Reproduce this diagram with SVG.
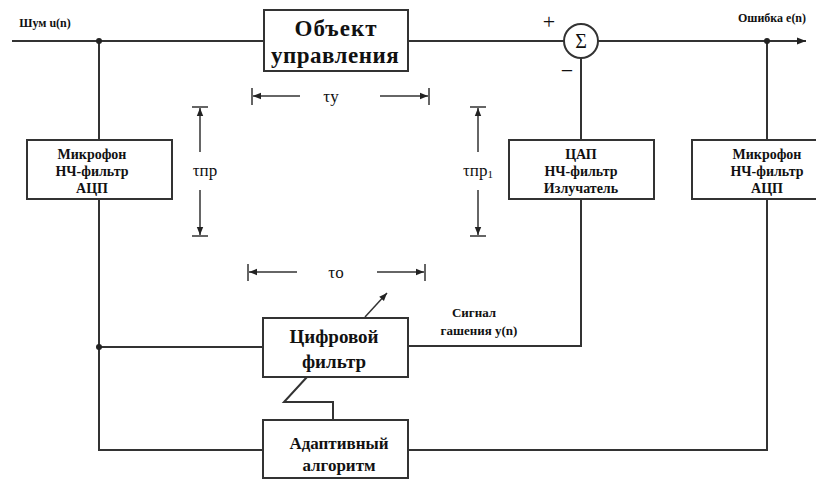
<svg xmlns="http://www.w3.org/2000/svg" width="816" height="481" viewBox="0 0 816 481">
<style>
.ln{fill:none;stroke:#333;stroke-width:2}
.bx{fill:#fff;stroke:#333;stroke-width:2}
.dm{fill:none;stroke:#333;stroke-width:1.5}
</style>
<defs>
<marker id="ah" viewBox="0 0 10 10" refX="10" refY="5" markerWidth="12" markerHeight="8" markerUnits="userSpaceOnUse" orient="auto"><path d="M0,1 L10,5 L0,9 z" fill="#222"/></marker>
<marker id="ah2" viewBox="0 0 10 10" refX="10" refY="5" markerWidth="14" markerHeight="9" markerUnits="userSpaceOnUse" orient="auto"><path d="M0,1 L10,5 L0,9 z" fill="#222"/></marker>
</defs>
<rect width="816" height="481" fill="#fff"/>
<g id="connectors">
<path class="ln" d="M12,41 H264"/>
<path class="ln" d="M408,41 H564"/>
<path class="ln" d="M598,41 H806" marker-end="url(#ah2)"/>
<path class="ln" d="M99,41 V140 M99,199 V450 H263"/>
<path class="ln" d="M99,347 H263"/>
<path class="ln" d="M581,58 V140 M581,199 V346 H408"/>
<path class="ln" d="M767,41 V140 M767,199 V450 H408"/>
<path class="ln" d="M307,377 L284,402 H333 V420"/>
<path class="dm" d="M365,317 L387,293" marker-end="url(#ah)"/>
<circle cx="99" cy="41" r="3" fill="#222"/>
<circle cx="767" cy="41" r="3" fill="#222"/>
<circle cx="99" cy="347" r="3" fill="#222"/>
</g>
<g id="dimensions">
<path class="dm" d="M252,88 V105 M429,88 V105"/>
<path class="dm" d="M300,96 H253" marker-end="url(#ah)"/>
<path class="dm" d="M380,96 H428" marker-end="url(#ah)"/>
<path class="dm" d="M248,264 V281 M425,264 V281"/>
<path class="dm" d="M297,272 H249" marker-end="url(#ah)"/>
<path class="dm" d="M377,272 H424" marker-end="url(#ah)"/>
<path class="dm" d="M192,107 H208 M192,236 H208"/>
<path class="dm" d="M200,152 V108" marker-end="url(#ah)"/>
<path class="dm" d="M200,190 V235" marker-end="url(#ah)"/>
<path class="dm" d="M470,107 H486 M470,236 H486"/>
<path class="dm" d="M478,152 V108" marker-end="url(#ah)"/>
<path class="dm" d="M478,190 V235" marker-end="url(#ah)"/>
<text font-family="Liberation Serif" font-size="17" fill="#111" text-anchor="middle" x="331" y="102">τу</text>
<text font-family="Liberation Serif" font-size="17" fill="#111" text-anchor="middle" x="336" y="278">τо</text>
<text font-family="Liberation Serif" font-size="17" fill="#111" text-anchor="middle" x="205" y="176">τпр</text>
<text font-family="Liberation Serif" font-size="17" fill="#111" text-anchor="middle" x="478" y="176">τпр<tspan font-size="11" dy="2">1</tspan></text>
</g>
<g id="labels">
<text font-family="Liberation Serif" font-weight="bold" font-size="12" fill="#111" text-anchor="middle" x="45" y="27">Шум u(n)</text>
<text font-family="Liberation Serif" font-weight="bold" font-size="12" fill="#111" text-anchor="middle" x="772" y="22">Ошибка e(n)</text>
<text font-family="Liberation Serif" font-size="22" fill="#111" text-anchor="middle" x="549" y="29">+</text>
<text font-family="Liberation Serif" font-size="22" fill="#111" text-anchor="middle" x="567" y="78">−</text>
<text font-family="Liberation Serif" font-weight="bold" font-size="13" fill="#111" text-anchor="middle" x="474" y="317">Сигнал</text>
<text font-family="Liberation Serif" font-weight="bold" font-size="13" fill="#111" text-anchor="middle" x="479" y="335">гашения y(n)</text>
</g>
<g id="object">
<rect class="bx" x="264" y="10" width="144" height="61"/>
<text font-family="Liberation Serif" font-weight="bold" font-size="23" fill="#111" text-anchor="middle" letter-spacing="1" x="336" y="36">Объект</text>
<text font-family="Liberation Serif" font-weight="bold" font-size="23" fill="#111" text-anchor="middle" letter-spacing="0.5" x="335" y="63">управления</text>
</g>
<g id="sum">
<circle class="bx" cx="581" cy="41" r="17"/>
<text font-family="Liberation Serif" font-size="20" fill="#111" text-anchor="middle" x="581" y="48">Σ</text>
</g>
<g id="mic-left" font-family="Liberation Serif" font-weight="bold" font-size="14" fill="#111" text-anchor="middle">
<rect class="bx" x="27" y="140" width="145" height="59"/>
<text font-family="Liberation Serif" x="92" y="159">Микрофон</text>
<text font-family="Liberation Serif" x="92" y="176">НЧ-фильтр</text>
<text font-family="Liberation Serif" x="92" y="193">АЦП</text>
</g>
<g id="dac" font-family="Liberation Serif" font-weight="bold" font-size="14" fill="#111" text-anchor="middle">
<rect class="bx" x="509" y="140" width="145" height="59"/>
<text font-family="Liberation Serif" x="581" y="159">ЦАП</text>
<text font-family="Liberation Serif" x="581" y="176">НЧ-фильтр</text>
<text font-family="Liberation Serif" x="581" y="193">Излучатель</text>
</g>
<g id="mic-right" font-family="Liberation Serif" font-weight="bold" font-size="14" fill="#111" text-anchor="middle">
<rect class="bx" x="692" y="140" width="150" height="59"/>
<text font-family="Liberation Serif" x="767" y="159">Микрофон</text>
<text font-family="Liberation Serif" x="767" y="176">НЧ-фильтр</text>
<text font-family="Liberation Serif" x="767" y="193">АЦП</text>
</g>
<g id="filter" font-family="Liberation Serif" font-weight="bold" font-size="19" fill="#111" text-anchor="middle">
<rect class="bx" x="263" y="318" width="145" height="59"/>
<text font-family="Liberation Serif" x="334" y="343">Цифровой</text>
<text font-family="Liberation Serif" x="334" y="368">фильтр</text>
</g>
<g id="adaptive" font-family="Liberation Serif" font-weight="bold" font-size="17" fill="#111" text-anchor="middle">
<rect class="bx" x="263" y="420" width="145" height="58"/>
<text font-family="Liberation Serif" x="339" y="449">Адаптивный</text>
<text font-family="Liberation Serif" x="339" y="471">алгоритм</text>
</g>
</svg>
